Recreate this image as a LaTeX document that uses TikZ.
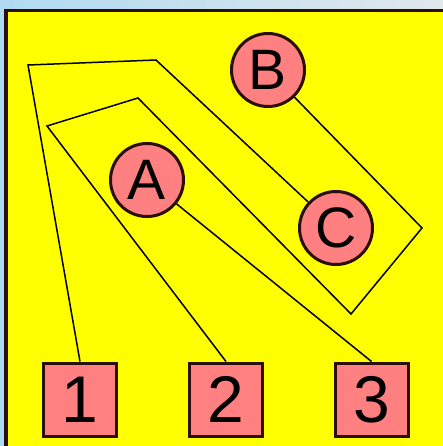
\documentclass[tikz,border=0pt]{standalone}
\usepackage{fontspec}
\setmainfont{Liberation Sans}
\definecolor{salmon}{RGB}{255,128,128}
\definecolor{rim}{RGB}{43,15,15}
\definecolor{canvas}{RGB}{255,255,0}
\definecolor{skyleft}{RGB}{176,218,242}
\definecolor{skyright}{RGB}{226,232,236}
\begin{document}
\begin{tikzpicture}[x=1pt,y=-1pt,
    obj/.style={circle,draw=rim,fill=salmon,line width=3pt,minimum size=73pt,
      inner sep=0pt,font=\fontsize{57}{57}\selectfont},
    attr/.style={rectangle,draw=rim,fill=salmon,line width=3pt,minimum size=73pt,
      inner sep=0pt,font=\fontsize{66}{66}\selectfont},
    link/.style={black,line width=1.5pt,line join=miter}]
      \useasboundingbox (0,0) rectangle (443,446);
      \clip (0,0) rectangle (443,446);
      \shade[left color=skyleft,right color=skyright] (0,0) rectangle (443,446);
      \draw[rim,fill=canvas,line width=3.5pt] (6,10.5) rectangle (470,470);
      % objects
      \node[obj] (A) at (147,180) {A};
      \node[obj] (B) at (268,70) {B};
      \node[obj] (C) at (336,228) {C};
      % attributes
      \node[attr] (n1) at (80,399.5) {1};
      \node[attr] (n2) at (226,399.5) {2};
      \node[attr] (n3) at (371.5,399.5) {3};
      % links
      \draw[link] (A) -- (n3.north);
      \draw[link] (n1.north) -- (28,65) -- (156,60) -- (C);
      \draw[link] (B) -- (422,228) -- (351,314) -- (138,98) -- (47,126)
        -- (n2.north);
    \end{tikzpicture}
\end{document}
